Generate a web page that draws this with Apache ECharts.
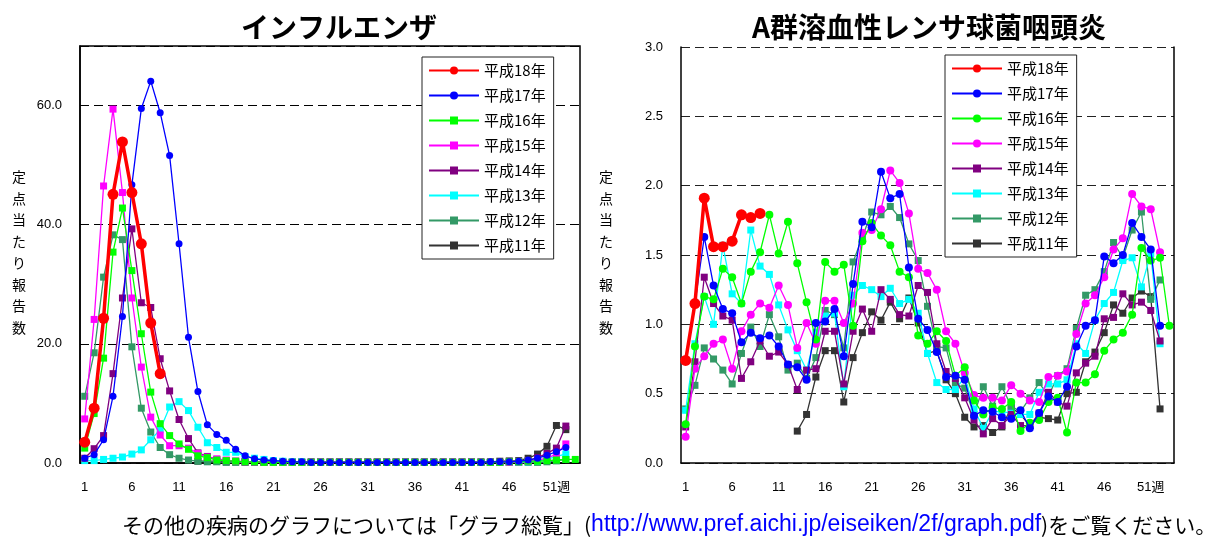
<!DOCTYPE html>
<html><head><meta charset="utf-8">
<script src="https://cdn.jsdelivr.net/npm/echarts@6/dist/echarts.min.js"></script>
<style>html,body{margin:0;padding:0;background:#fff}#c{width:1207px;height:537px}</style>
</head><body><div id="c"></div>
<script>
// ---- categories / labels ----
const weeks = Array.from({length: 53}, (_, i) => String(i + 1));
const yearNames = ['平成18年','平成17年','平成16年','平成15年','平成14年','平成13年','平成12年','平成11年'];
const fluTitle = 'インフルエンザ';
const strepTitle = 'A群溶血性レンサ球菌咽頭炎';
const yName = '定点当たり報告数';

// ---- インフルエンザ (weekly reports per sentinel) ----
const fluH18 = [3.5,9.2,24.3,45.1,53.9,45.4,36.8,23.5,15.0];
const fluH17 = [0.8,1.4,3.9,11.2,24.6,46.7,59.5,64.1,58.8,51.6,
  36.8,21.1,12.0,6.4,4.8,3.8,2.3,1.2,0.7,0.5,
  0.4,0.3,0.2,0.2,0.1,0.1,0.1,0.1,0.1,0.1,
  0.1,0.1,0.1,0.1,0.1,0.1,0.1,0.1,0.1,0.1,
  0.1,0.1,0.1,0.2,0.2,0.2,0.3,0.5,0.8,1.3,
  1.9,2.6];
const fluH16 = [2.5,8.3,17.6,35.4,42.8,32.3,21.7,11.9,6.6,4.6,
  3.2,2.3,1.2,0.9,0.5,0.4,0.3,0.2,0.2,0.1,
  0.1,0.1,0.1,0.1,0.1,0.1,0.1,0.1,0.1,0.1,
  0.1,0.1,0.1,0.1,0.1,0.1,0.1,0.1,0.1,0.1,
  0.1,0.1,0.1,0.1,0.1,0.2,0.2,0.3,0.3,0.4,
  0.5,0.6,0.6];
const fluH15 = [7.4,24.1,46.5,59.4,45.4,27.7,16.1,7.7,4.7,2.9,
  2.9,2.5,1.6,1.0,0.7,0.5,0.3,0.2,0.2,0.1,
  0.1,0.1,0.1,0.1,0.1,0.1,0.1,0.1,0.1,0.1,
  0.1,0.1,0.1,0.1,0.1,0.1,0.1,0.1,0.1,0.1,
  0.1,0.1,0.1,0.1,0.1,0.1,0.2,0.3,0.5,0.8,
  1.5,3.2];
const fluH14 = [0.8,2.4,4.6,15.0,27.7,39.3,26.9,26.1,17.5,12.1,
  7.3,4.1,1.7,1.1,0.6,0.4,0.3,0.2,0.2,0.1,
  0.1,0.1,0.1,0.1,0.1,0.1,0.1,0.1,0.1,0.1,
  0.1,0.1,0.1,0.1,0.1,0.1,0.1,0.1,0.1,0.1,
  0.1,0.1,0.1,0.1,0.1,0.2,0.2,0.4,0.9,1.6,
  2.5,6.2];
const fluH13 = [0.4,0.4,0.6,0.8,1.0,1.5,2.2,3.9,5.6,9.4,
  10.3,8.8,6.0,3.4,2.6,1.8,1.8,1.1,0.8,0.6,
  0.4,0.3,0.2,0.2,0.1,0.1,0.1,0.1,0.1,0.1,
  0.1,0.1,0.1,0.1,0.1,0.1,0.1,0.1,0.1,0.1,
  0.1,0.1,0.1,0.1,0.1,0.1,0.1,0.2,0.3,0.6,
  1.1,1.5];
const fluH12 = [11.2,18.5,31.2,38.3,37.5,19.5,9.2,5.2,2.6,1.4,
  0.8,0.5,0.3,0.2,0.2,0.1,0.1,0.1,0.1,0.1,
  0.1,0.1,0.1,0.1,0.1,0.1,0.1,0.1,0.1,0.1,
  0.1,0.1,0.1,0.1,0.1,0.1,0.1,0.1,0.1,0.1,
  0.1,0.1,0.1,0.1,0.1,0.1,0.1,0.1,0.1,0.2,
  0.35,0.6];
const fluH11 = [null,null,null,null,null,null,null,null,null,null,
  null,null,0.3,0.3,0.3,0.2,0.2,0.2,0.2,0.2,
  0.2,0.2,0.2,0.2,0.2,0.2,0.2,0.2,0.2,0.2,
  0.2,0.2,0.2,0.2,0.2,0.2,0.2,0.2,0.2,0.2,
  0.2,0.2,0.2,0.2,0.3,0.35,0.4,0.8,1.5,2.8,
  6.3,5.6];

// ---- A群溶血性レンサ球菌咽頭炎 ----
const stH18 = [0.74,1.15,1.91,1.56,1.56,1.60,1.79,1.77,1.80];
const stH17 = [0.74,1.15,1.63,1.28,1.11,1.08,0.87,0.94,0.90,0.92,
  0.84,0.71,0.69,0.60,1.01,1.02,1.11,0.77,1.29,1.74,
  1.70,2.10,1.91,1.94,1.41,1.04,0.96,0.80,0.62,0.63,
  0.60,0.34,0.38,0.37,0.33,0.32,0.38,0.25,0.36,0.48,
  0.44,0.55,0.84,0.99,1.03,1.49,1.44,1.50,1.73,1.63,
  1.54,0.99];
const stH16 = [0.28,0.84,1.20,1.18,1.40,1.34,1.15,1.38,1.52,1.79,
  1.51,1.74,1.44,1.16,0.89,1.45,1.38,1.43,0.99,1.60,
  1.73,1.64,1.57,1.38,1.34,0.92,0.86,0.95,0.88,0.63,
  0.69,0.45,0.35,0.40,0.39,0.44,0.23,0.29,0.31,0.44,
  0.47,0.22,0.58,0.58,0.64,0.81,0.89,0.94,1.07,1.55,
  1.46,1.48,0.99];
const stH15 = [0.19,0.68,0.77,0.86,0.89,0.68,0.95,1.07,1.15,1.12,
  1.28,1.14,0.83,1.01,0.86,1.17,1.17,1.01,1.15,1.66,
  1.68,1.83,2.11,2.02,1.80,1.40,1.37,1.25,0.95,0.86,
  0.65,0.49,0.47,0.47,0.45,0.56,0.50,0.45,0.44,0.62,
  0.63,0.66,0.93,1.15,1.21,1.34,1.54,1.62,1.94,1.85,
  1.83,1.52];
const stH14 = [0.26,0.73,1.34,1.15,1.06,1.03,0.61,0.73,0.88,0.77,
  0.80,0.71,0.53,0.67,0.68,0.95,0.95,0.57,0.95,1.11,
  0.95,1.25,1.18,1.07,1.06,1.28,1.23,0.86,0.66,0.61,
  0.47,0.31,0.21,0.32,0.27,0.35,0.27,0.27,0.36,0.51,
  0.44,0.41,0.65,0.72,0.77,1.04,1.05,1.22,1.14,1.16,
  1.10,0.88];
const stH13 = [0.38,0.86,1.20,1.00,1.57,1.22,1.15,1.68,1.42,1.36,
  1.14,0.96,0.81,0.67,0.94,1.06,1.08,0.55,1.21,1.28,
  1.25,1.20,1.26,1.15,1.18,1.08,0.79,0.58,0.53,0.53,
  0.62,0.39,0.25,0.37,0.37,0.36,0.35,0.35,0.51,0.57,
  0.57,0.60,0.86,0.79,1.03,1.15,1.23,1.46,1.48,1.27,
  1.51,0.86];
const stH12 = [0.39,0.56,0.83,0.75,0.67,0.57,0.79,0.98,0.84,1.07,
  0.91,0.67,0.72,0.61,0.76,1.10,1.07,0.83,1.45,1.63,
  1.81,1.79,1.85,1.77,1.58,1.46,1.13,0.84,0.83,0.57,
  0.54,0.35,0.55,0.41,0.55,0.41,0.37,0.47,0.58,0.48,
  0.63,0.68,0.97,1.21,1.25,1.38,1.59,1.48,1.68,1.81,
  1.18,1.32];
const stH11 = [null,null,null,null,null,null,null,null,null,null,
  null,null,0.23,0.35,0.62,0.81,0.81,0.44,0.76,0.94,
  1.09,1.03,1.16,1.04,1.19,1.01,0.79,0.81,0.60,0.50,
  0.33,0.26,0.27,0.22,0.26,0.40,0.35,0.27,0.33,0.32,
  0.31,0.50,0.51,0.73,0.80,0.94,1.14,1.08,1.19,1.24,
  1.20,0.39];

const fluData = [fluH18, fluH17, fluH16, fluH15, fluH14, fluH13, fluH12, fluH11];
const stData  = [stH18, stH17, stH16, stH15, stH14, stH13, stH12, stH11];

// ---- styles ----
const colors = ['#ff0000','#0000ff','#00ff00','#ff00ff','#800080','#00ffff','#339966','#333333'];
const fluSymbols = ['circle','circle','rect','rect','rect','rect','rect','rect'];
const stSymbols  = ['circle','circle','circle','circle','rect','rect','rect','rect'];
const fluSizes = [11,7,7,7,7,7,7,7];
const stSizes  = [11,8,8,8,7,7,7,7];
const widths = [3.5,1.3,1.3,1.3,1.3,1.3,1.3,1.3];
const FONT = '"Liberation Sans", "Noto Sans CJK JP", sans-serif';
const JP = '"Noto Sans CJK JP", sans-serif';

const series = [];
for (let i = yearNames.length - 1; i >= 0; i--) {
  series.push({
    type: 'line', name: 'a' + yearNames[i], xAxisIndex: 0, yAxisIndex: 0,
    data: fluData[i], symbol: fluSymbols[i], symbolSize: fluSizes[i],
    showAllSymbol: true, connectNulls: false, animation: false,
    itemStyle: {color: colors[i]}, lineStyle: {color: colors[i], width: widths[i]},
    z: 10 + (8 - i)
  });
}
for (let i = yearNames.length - 1; i >= 0; i--) {
  series.push({
    type: 'line', name: 'b' + yearNames[i], xAxisIndex: 1, yAxisIndex: 1,
    data: stData[i], symbol: stSymbols[i], symbolSize: stSizes[i],
    showAllSymbol: true, connectNulls: false, animation: false,
    itemStyle: {color: colors[i]}, lineStyle: {color: colors[i], width: widths[i]},
    z: 10 + (8 - i)
  });
}

function xAxis(idx) {
  return {
    type: 'category', gridIndex: idx, data: weeks, boundaryGap: true,
    axisLine: {lineStyle: {color: '#000', width: 1.5}},
    axisTick: {inside: true, length: 4, interval: 0, lineStyle: {color: '#000'}},
    axisLabel: {interval: (i) => i % 5 === 0, margin: 18, color: '#000', fontSize: 13, fontFamily: FONT,
      hideOverlap: false, formatter: v => v === '51' ? '51週' : v},
    splitLine: {show: false}
  };
}
function legend(prefix, left, top) {
  return {
    orient: 'vertical', left: left, top: top,
    data: yearNames.map(n => prefix + n),
    formatter: n => n.slice(1),
    itemWidth: 50, itemHeight: 10, itemGap: 10,
    padding: [6, 8, 6, 6],
    borderColor: '#222', borderWidth: 1, backgroundColor: '#fff',
    textStyle: {fontSize: 15, color: '#000', fontFamily: JP}, selectedMode: false
  };
}

const option = {
  backgroundColor: '#fff',
  animation: false,
  grid: [
    {left: 80, top: 46, width: 500, height: 417, show: true, borderColor: '#000', borderWidth: 1.5},
    {left: 681, top: 47, width: 493, height: 416}
  ],
  xAxis: [xAxis(0), xAxis(1)],
  yAxis: [
    {type: 'value', gridIndex: 0, min: 0, max: 70, interval: 20,
      axisLine: {show: true, lineStyle: {color: '#000', width: 1.5}}, axisTick: {show: false},
      axisLabel: {margin: 18, fontSize: 13, color: '#000', fontFamily: FONT,
        formatter: v => v === 70 ? '' : v.toFixed(1)},
      splitLine: {lineStyle: {color: '#000', type: [9, 5], width: 1}}},
    {type: 'value', gridIndex: 1, min: 0, max: 3, interval: 0.5,
      axisLine: {show: true, lineStyle: {color: '#000', width: 1.5}}, axisTick: {show: false},
      axisLabel: {margin: 18, fontSize: 13, color: '#000', fontFamily: FONT,
        formatter: v => v.toFixed(1)},
      splitLine: {lineStyle: {color: '#222', type: [9, 5], width: 1}}},
    {type: 'value', gridIndex: 1, min: 0, max: 3, interval: 0.5, position: 'right',
      axisLine: {show: true, lineStyle: {color: '#000', width: 1.5}}, axisTick: {show: false},
      axisLabel: {show: false}, splitLine: {show: false}}
  ],
  legend: [legend('a', 422, 57), legend('b', 945, 55)],
  graphic: [
    {type: 'text', x: 339, y: 27, style: {text: fluTitle, font: 'bold 28px "Noto Sans CJK JP"', fill: '#000', align: 'center', verticalAlign: 'middle'}},
    {type: 'text', x: 929, y: 27, style: {text: strepTitle, font: 'bold 28px "Noto Sans CJK JP"', fill: '#000', align: 'center', verticalAlign: 'middle'}},
    {type: 'text', x: 19, y: 166, style: {text: yName.split('').join('\n'), fontSize: 14, lineHeight: 21.5, fontFamily: JP, fill: '#000', align: 'center', verticalAlign: 'top'}},
    {type: 'text', x: 606, y: 166, style: {text: yName.split('').join('\n'), fontSize: 14, lineHeight: 21.5, fontFamily: JP, fill: '#000', align: 'center', verticalAlign: 'top'}},
    {type: 'text', x: 122, y: 525, style: {
      text: '{a|その他の疾病のグラフについては「グラフ総覧」(}{b|http://www.pref.aichi.jp/eiseiken/2f/graph.pdf}{a|)をご覧ください。}',
      verticalAlign: 'middle', align: 'left',
      rich: {
        a: {fill: '#000', fontSize: 21, fontFamily: JP},
        b: {fill: '#0000ff', fontSize: 23, fontFamily: '"Liberation Sans", sans-serif'}
      }}}
  ],
  series: series
};
const chart = echarts.init(document.getElementById('c'), null, {renderer: 'canvas'});
chart.setOption(option);
</script></body></html>
